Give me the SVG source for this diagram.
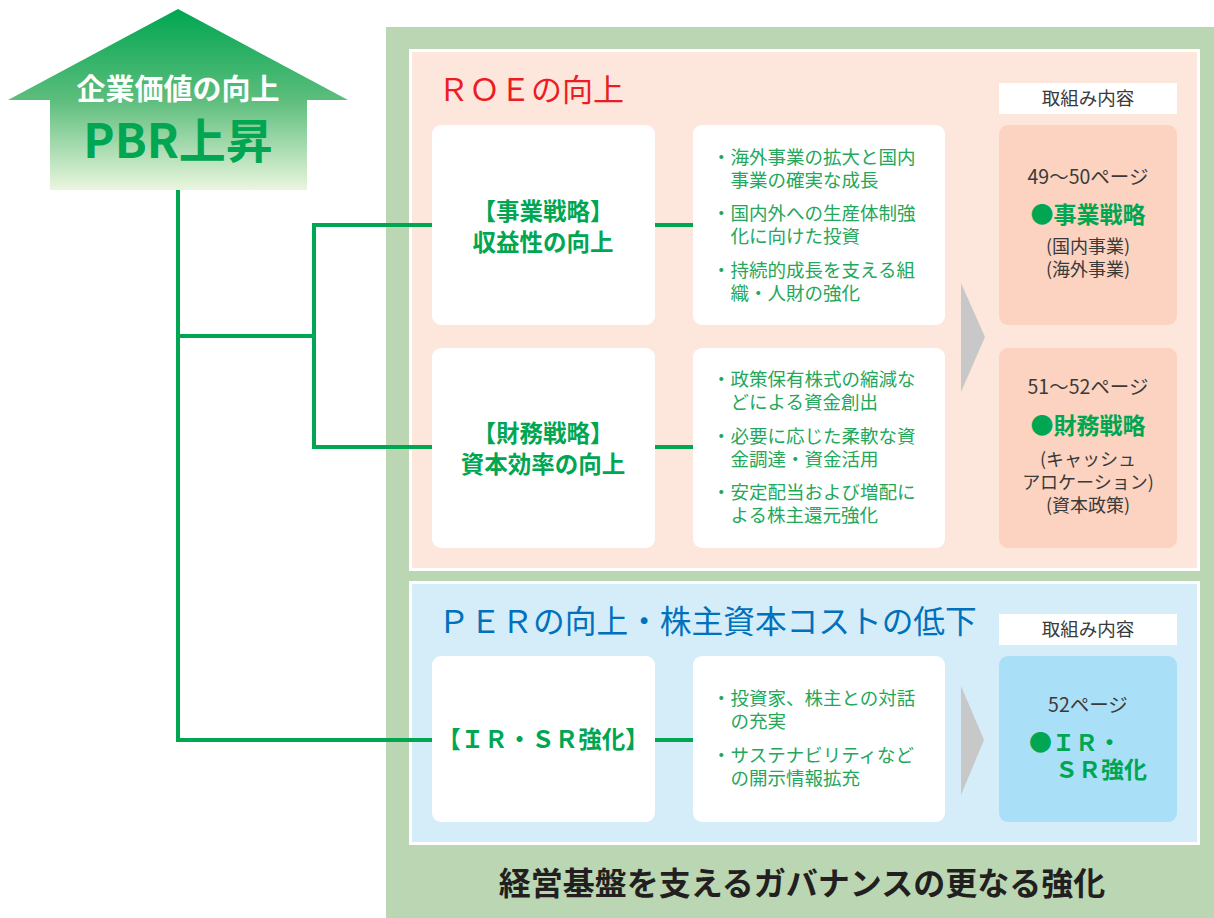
<svg xmlns="http://www.w3.org/2000/svg" width="1214" height="918" viewBox="0 0 1214 918">
<defs>
<linearGradient id="arrowGrad" x1="0" y1="9" x2="0" y2="190" gradientUnits="userSpaceOnUse">
<stop offset="0" stop-color="#00a651"/>
<stop offset="0.5" stop-color="#5cbd7c"/>
<stop offset="1" stop-color="#eaf6de"/>
</linearGradient>
<style>
text{font-family:"Noto Sans CJK JP","Noto Sans",sans-serif;}
.card{fill:#ffffff;}
.conn{stroke:#00a651;stroke-width:4;fill:none;}
.lbl{font-size:23.5px;font-weight:bold;fill:#00a651;text-anchor:middle;}
.item{font-size:18.5px;fill:#22a75b;}
.dark{font-size:18px;fill:#3a3a3a;text-anchor:middle;}
.page{font-size:19.5px;fill:#3a3a3a;text-anchor:middle;}
.head{font-size:18.5px;fill:#3a3a3a;text-anchor:middle;}
.strong{font-size:23px;font-weight:bold;fill:#00a651;text-anchor:middle;}
.strongL{font-size:23px;font-weight:bold;fill:#00a651;}
.chev{fill:#c8c8c8;}
</style>
</defs>
<rect width="1214" height="918" fill="#ffffff"/>
<!-- outer governance panel -->
<g id="governance">
<rect x="386" y="27" width="828" height="891" fill="#bbd6b2"/>
<text x="802" y="895" font-size="32" font-weight="bold" fill="#231f20" text-anchor="middle">経営基盤を支えるガバナンスの更なる強化</text>
</g>
<!-- ROE panel -->
<g id="roe-panel">
<rect x="410.5" y="50.5" width="788" height="519" fill="#fde6dc" stroke="#ffffff" stroke-width="3"/>
<text x="438" y="101" font-size="31" fill="#ed1c24">ＲＯＥの向上</text>
</g>
<!-- PER panel -->
<g id="per-panel">
<rect x="410.5" y="582.5" width="788" height="261" fill="#d5ecf9" stroke="#ffffff" stroke-width="3"/>
<text x="438" y="633" font-size="31.7" fill="#0071bc">ＰＥＲの向上・株主資本コストの低下</text>
</g>
<!-- top arrow -->
<g id="pbr-arrow">
<polygon points="178,9 348,100 307,100 307,190 50,190 50,100 8,100" fill="url(#arrowGrad)"/>
<text x="178" y="100" font-size="29" font-weight="bold" fill="#ffffff" text-anchor="middle">企業価値の向上</text>
<text x="178" y="158" font-size="47" font-weight="bold" fill="#00a651" text-anchor="middle">PBR上昇</text>
</g>
<!-- connectors -->
<g id="connectors">
<polyline class="conn" points="178,190 178,740 432,740"/>
<line class="conn" x1="178" y1="336" x2="316" y2="336"/>
<polyline class="conn" points="432,225 314,225 314,447 432,447"/>
<line class="conn" x1="655" y1="225" x2="693" y2="225"/>
<line class="conn" x1="655" y1="447" x2="693" y2="447"/>
<line class="conn" x1="655" y1="740" x2="693" y2="740"/>
</g>
<!-- ROE: business strategy -->
<g id="biz-strategy">
<rect class="card" x="432" y="125" width="223" height="200" rx="9"/>
<text class="lbl"><tspan x="543" y="220">【事業戦略】</tspan><tspan x="543" y="251">収益性の向上</tspan></text>
</g>
<g id="biz-items">
<rect class="card" x="693" y="125" width="252" height="200" rx="9"/>
<text class="item"><tspan x="712" y="164">・海外事業の拡大と国内</tspan><tspan x="730.5" y="187">事業の確実な成長</tspan><tspan x="712" y="220">・国内外への生産体制強</tspan><tspan x="730.5" y="243">化に向けた投資</tspan><tspan x="712" y="277">・持続的成長を支える組</tspan><tspan x="730.5" y="300">織・人財の強化</tspan></text>
</g>
<!-- ROE: financial strategy -->
<g id="fin-strategy">
<rect class="card" x="432" y="348" width="223" height="200" rx="9"/>
<text class="lbl"><tspan x="543" y="442">【財務戦略】</tspan><tspan x="543" y="473">資本効率の向上</tspan></text>
</g>
<g id="fin-items">
<rect class="card" x="693" y="348" width="252" height="200" rx="9"/>
<text class="item"><tspan x="712" y="386">・政策保有株式の縮減な</tspan><tspan x="730.5" y="409">どによる資金創出</tspan><tspan x="712" y="443">・必要に応じた柔軟な資</tspan><tspan x="730.5" y="466">金調達・資金活用</tspan><tspan x="712" y="499">・安定配当および増配に</tspan><tspan x="730.5" y="522">よる株主還元強化</tspan></text>
</g>
<!-- chevrons -->
<g id="chevrons">
<polygon class="chev" points="961,283 985,337 961,392"/>
<polygon class="chev" points="961,686 984,740 961,795"/>
</g>
<!-- ROE right column -->
<g id="roe-initiatives">
<rect x="999" y="83" width="178" height="31" fill="#ffffff"/>
<text class="head" x="1088" y="105">取組み内容</text>
</g>
<g id="page-biz">
<rect x="999" y="125" width="178" height="200" rx="9" fill="#fcd3c1"/>
<text class="page" x="1088" y="184">49〜50ページ</text>
<text class="strong" x="1088" y="223">●事業戦略</text>
<text class="dark"><tspan x="1088" y="253">(国内事業)</tspan><tspan x="1088" y="276">(海外事業)</tspan></text>
</g>
<g id="page-fin">
<rect x="999" y="348" width="178" height="200" rx="9" fill="#fcd3c1"/>
<text class="page" x="1088" y="394">51〜52ページ</text>
<text class="strong" x="1088" y="434">●財務戦略</text>
<text class="dark"><tspan x="1088" y="466">(キャッシュ</tspan><tspan x="1088" y="489">アロケーション)</tspan><tspan x="1088" y="512">(資本政策)</tspan></text>
</g>
<!-- PER -->
<g id="irsr">
<rect class="card" x="432" y="656" width="223" height="166" rx="9"/>
<text class="lbl" x="543" y="748">【ＩＲ・ＳＲ強化】</text>
</g>
<g id="irsr-items">
<rect class="card" x="693" y="656" width="252" height="166" rx="9"/>
<text class="item"><tspan x="712" y="705">・投資家、株主との対話</tspan><tspan x="730.5" y="728">の充実</tspan><tspan x="712" y="762">・サステナビリティなど</tspan><tspan x="730.5" y="785">の開示情報拡充</tspan></text>
</g>
<g id="per-initiatives">
<rect x="999" y="614" width="178" height="31" fill="#ffffff"/>
<text class="head" x="1088" y="636">取組み内容</text>
</g>
<g id="page-irsr">
<rect x="999" y="656" width="178" height="166" rx="9" fill="#aadff8"/>
<text class="page" x="1088" y="712">52ページ</text>
<text class="strongL"><tspan x="1029" y="751">●ＩＲ・</tspan><tspan x="1055" y="778">ＳＲ強化</tspan></text>
</g>
</svg>
